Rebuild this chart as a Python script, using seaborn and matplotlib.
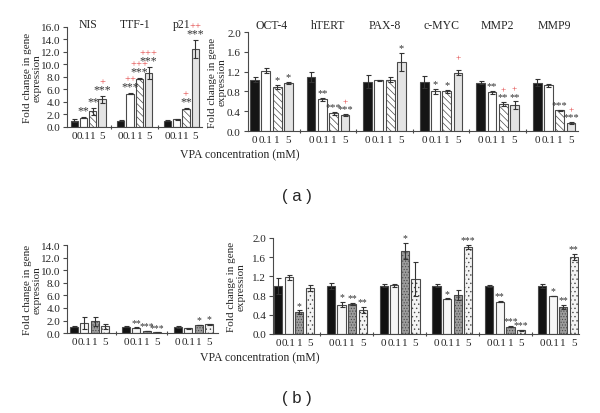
import numpy as np
import pandas as pd
import matplotlib
matplotlib.use("Agg")
import matplotlib.pyplot as plt
import matplotlib.transforms as mtransforms
import seaborn as sns

sns.set_theme(style="ticks")
plt.rcParams["font.family"] = ["Liberation Serif", "DejaVu Serif"]
plt.rcParams["hatch.linewidth"] = 0.5

conc = ["0", "0.1", "1", "5"]

# (a) links
a_left_genes = ["NIS", "TTF-1", "p21"]
a_left_mean = [[1.0, 1.5, 2.5, 4.4],
               [1.0, 5.3, 7.7, 8.6],
               [1.0, 1.2, 2.9, 12.5]]
a_left_err = [[0.2, 0.05, 0.6, 0.5],
              [0.05, 0.05, 0.05, 1.0],
              [0.1, 0.05, 0.1, 1.4]]
a_left_stars = [["", "**", "**", "***"],
                ["", "***", "***", "***"],
                ["", "", "**", "***"]]
a_left_plus = [["", "", "", "+"],
               ["", "++", "+++", "+++"],
               ["", "", "+", "++"]]

# (a) rechts
a_right_genes = ["OCT-4", "hTERT", "PAX-8", "c-MYC", "MMP2", "MMP9"]
a_right_mean = [[1.04, 1.22, 0.90, 0.98],
                [1.10, 0.64, 0.36, 0.32],
                [1.00, 1.03, 1.04, 1.40],
                [1.00, 0.80, 0.80, 1.18],
                [0.98, 0.78, 0.55, 0.52],
                [0.98, 0.93, 0.42, 0.17]]
a_right_err = [[0.05, 0.05, 0.04, 0.02],
               [0.10, 0.03, 0.03, 0.02],
               [0.13, 0.01, 0.05, 0.18],
               [0.12, 0.05, 0.04, 0.05],
               [0.03, 0.03, 0.04, 0.08],
               [0.07, 0.03, 0.01, 0.02]]
a_right_stars = [["", "", "*", "*"],
                 ["", "**", "***", "***"],
                 ["", "", "", "*"],
                 ["", "*", "*", ""],
                 ["", "**", "**", "**"],
                 ["", "", "***", "***"]]
a_right_plus = [["", "", "", ""],
                ["", "", "", "+"],
                ["", "", "", ""],
                ["", "", "", "+"],
                ["", "", "+", "+"],
                ["", "", "", "+"]]

# (b) links (keine Gen-Namen im Bild)
b_left_genes = ["g1", "g2", "g3"]
b_left_mean = [[1.0, 1.6, 1.9, 1.1],
               [1.0, 0.85, 0.3, 0.1],
               [1.0, 0.75, 1.3, 1.4]]
b_left_err = [[0.1, 0.9, 0.7, 0.4],
              [0.05, 0.05, 0.03, 0.02],
              [0.15, 0.03, 0.05, 0.05]]
b_left_stars = [["", "", "", ""],
                ["", "**", "***", "***"],
                ["", "", "*", "*"]]

# (b) rechts
b_right_genes = ["g4", "g5", "g6", "g7", "g8", "g9"]
b_right_mean = [[1.0, 1.18, 0.45, 0.95],
                [1.0, 0.61, 0.63, 0.50],
                [1.0, 1.01, 1.72, 1.15],
                [1.0, 0.73, 0.81, 1.81],
                [1.0, 0.67, 0.15, 0.08],
                [1.0, 0.79, 0.56, 1.60]]
b_right_err = [[0.17, 0.05, 0.04, 0.06],
               [0.06, 0.05, 0.02, 0.06],
               [0.03, 0.03, 0.17, 0.35],
               [0.03, 0.01, 0.10, 0.04],
               [0.02, 0.01, 0.01, 0.01],
               [0.05, 0.01, 0.04, 0.07]]
b_right_stars = [["", "", "*", ""],
                 ["", "*", "**", "**"],
                 ["", "", "*", ""],
                 ["", "*", "", "***"],
                 ["", "**", "***", "***"],
                 ["", "*", "**", "**"]]

style_a = {"colors": ["#151515", "white", "white", "#e4e4e4"],
           "hatches": ["", "", "\\\\\\\\\\", ""]}
style_b = {"colors": ["#111111", "#f7f7f7", "#9c9c9c", "#f4f4f4"],
           "hatches": ["", "", "......", "...."]}

EDGE = "#4a4a4a"
TXT = "#333333"


def draw_panel(ax, genes, means, errs, stars, plus, style, ylim, yticks,
               star_size=7.5, titles=False, title_y=1.05, xlim=None):
    df = pd.DataFrame({
        "gene": np.repeat(genes, 4),
        "conc": conc * len(genes),
        "value": np.array(means).ravel(),
    })
    sns.barplot(data=df, x="gene", y="value", hue="conc", hue_order=conc,
                order=genes, palette=style["colors"], width=0.8, gap=0.22,
                errorbar=None, legend=False, edgecolor=EDGE, linewidth=0.8,
                saturation=1, ax=ax)

    bar_conts = list(ax.containers)
    centers, labels = [], []
    for i, cont in enumerate(bar_conts):
        for j, bar in enumerate(cont.patches):
            bar.set_hatch(style["hatches"][i])
            xc = bar.get_x() + bar.get_width() / 2
            top = means[j][i] + errs[j][i]
            ax.errorbar(xc, means[j][i], yerr=errs[j][i], fmt="none",
                        ecolor=TXT, elinewidth=0.8, capsize=1.8, capthick=0.8)
            centers.append(xc)
            labels.append(conc[i])
            if stars[j][i]:
                ax.annotate(stars[j][i], (xc, top), xytext=(0, 0.5),
                            textcoords="offset points", ha="center",
                            va="bottom", fontsize=star_size, color=TXT)
            if plus is not None and plus[j][i]:
                ax.annotate(plus[j][i], (xc, top), xytext=(0, star_size * 0.85),
                            textcoords="offset points", ha="center",
                            va="bottom", fontsize=star_size * 0.9,
                            color="#e03a3a")

    ax.set_xticks(centers)
    ax.set_xticklabels(labels, fontsize=8)
    ax.set_xticks(np.arange(len(genes) + 1) - 0.5, minor=True)
    ax.tick_params(axis="x", which="major", length=0, pad=3)
    ax.tick_params(axis="x", which="minor", length=3, direction="inout",
                   width=0.8, color=EDGE)
    ax.set_ylim(*ylim)
    ax.set_yticks(yticks)
    ax.set_yticklabels([f"{t:.1f}" for t in yticks], fontsize=8)
    ax.tick_params(axis="y", length=3, width=0.8, color=EDGE, pad=2)
    if xlim is not None:
        ax.set_xlim(*xlim)
    ax.set_xlabel("")
    ax.set_ylabel("Fold change in gene\nexpression", fontsize=8, linespacing=1.1)
    for s in ["top", "right"]:
        ax.spines[s].set_visible(False)
    for s in ["left", "bottom"]:
        ax.spines[s].set_color(EDGE)
        ax.spines[s].set_linewidth(0.8)
    if titles:
        trans = mtransforms.blended_transform_factory(ax.transData, ax.transAxes)
        for k, g in enumerate(genes):
            ax.text(k, title_y, g, transform=trans, ha="center", va="center",
                    fontsize=8.5)


fig = plt.figure(figsize=(6, 4.14), dpi=100)
ax1 = fig.add_axes([0.112, 0.691, 0.225, 0.2415])
ax2 = fig.add_axes([0.413, 0.681, 0.55, 0.239])
ax3 = fig.add_axes([0.112, 0.193, 0.252, 0.2126])
ax4 = fig.add_axes([0.455, 0.191, 0.51, 0.232])

draw_panel(ax1, a_left_genes, a_left_mean, a_left_err, a_left_stars, a_left_plus,
           style_a, (0, 16), np.arange(0, 16.1, 2), star_size=8.5, titles=True,
           title_y=1.03, xlim=(-0.45, 2.45))
draw_panel(ax2, a_right_genes, a_right_mean, a_right_err, a_right_stars,
           a_right_plus, style_a, (0, 2), np.arange(0, 2.01, 0.4), star_size=7.5,
           titles=True, title_y=1.07, xlim=(-0.42, 5.42))
draw_panel(ax3, b_left_genes, b_left_mean, b_left_err, b_left_stars, None,
           style_b, (0, 14), np.arange(0, 14.1, 2), star_size=7,
           xlim=(-0.43, 2.48))
draw_panel(ax4, b_right_genes, b_right_mean, b_right_err, b_right_stars, None,
           style_b, (0, 2), np.arange(0, 2.01, 0.4), star_size=7,
           xlim=(-0.4, 5.4))

ax1.yaxis.set_label_coords(-0.19, 0.5)
ax2.yaxis.set_label_coords(-0.063, 0.5)
ax3.yaxis.set_label_coords(-0.17, 0.5)
ax4.yaxis.set_label_coords(-0.088, 0.5)

fig.text(0.40, 1 - 155 / 414, "VPA concentration (mM)", ha="center", va="center",
         fontsize=8.5)
fig.text(0.433, 1 - 358 / 414, "VPA concentration (mM)", ha="center", va="center",
         fontsize=8.5)
fig.text(0.495, 1 - 197 / 414, "( a )", ha="center", va="center", fontsize=12,
         family=["Liberation Sans", "DejaVu Sans"])
fig.text(0.495, 1 - 399 / 414, "( b )", ha="center", va="center", fontsize=12,
         family=["Liberation Sans", "DejaVu Sans"])

fig.savefig("out.png", dpi=100, facecolor="white")
